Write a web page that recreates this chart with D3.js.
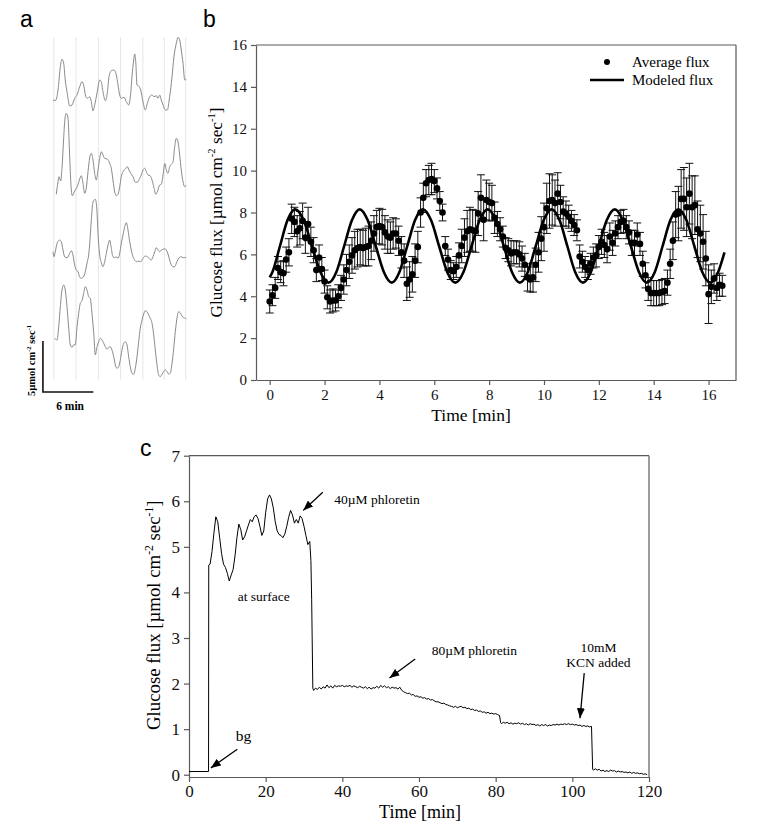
<!DOCTYPE html>
<html><head><meta charset="utf-8">
<script src="https://cdn.jsdelivr.net/npm/d3@7/dist/d3.min.js"></script>
<style>body{margin:0;background:#fff}svg{display:block}</style>
</head><body>
<svg id="fig" width="768" height="826"></svg>
<script>
// ---------- Panel a: individual flux traces ----------
const aTime1 = [0,0.27,0.6,0.87,1.07,1.27,1.46,1.7,1.99,2.26,2.58,2.89,3.18,3.45,3.69,3.85,4.08,4.37,4.56,4.76,4.96,5.27,5.56,5.75,5.95,6.23,6.46,6.67,6.94,7.26,7.54,7.74,7.94,8.13,8.45,8.73,9.01,9.25,9.4,9.61,9.73,9.85,10.0,10.2,10.44,10.71,10.99,11.23,11.51,11.79,12.02,12.3,12.5,12.7,12.89,13.1,13.37,13.61,13.89,14.17,14.4,14.68,14.88,15.08,15.27,15.48,15.68,15.87];
const aFlux1 = [1.63,1.56,2.61,4.89,5.62,5.23,3.59,2.28,1.04,1.14,1.79,2.19,2.93,3.42,2.93,2.12,1.79,1.95,1.46,0.55,1.14,2.44,3.59,3.42,2.44,1.56,2.28,3.91,4.5,4.57,4.08,3.1,2.12,1.79,1.89,1.46,1.14,2.28,3.91,5.55,6.14,5.38,3.1,3.0,2.61,1.46,0.65,1.3,1.95,2.12,1.95,2.05,1.79,2.12,1.63,1.14,0.65,0.65,1.95,3.91,5.87,7.19,7.77,7.51,6.53,5.23,3.59,3.66];
const aTime2 = [0.39,0.6,0.71,0.92,1.07,1.27,1.39,1.58,1.79,1.9,2.06,2.18,2.3,2.58,2.89,3.18,3.37,3.57,3.77,3.96,4.17,4.37,4.56,4.76,4.96,5.15,5.36,5.56,5.75,5.95,6.15,6.46,6.75,6.94,7.14,7.35,7.54,7.74,7.94,8.13,8.33,8.61,8.85,9.05,9.25,9.52,9.8,10.04,10.32,10.51,10.71,10.92,11.11,11.31,11.55,11.79,12.02,12.23,12.42,12.7,12.89,13.1,13.3,13.49,13.69,13.89,14.08,14.29,14.49,14.68,14.88,15.08,15.27,15.48,15.68,15.87];
const aFlux2 = [0.38,1.62,2.11,1.69,2.93,5.87,7.5,8.32,7.83,5.87,2.6,0.8,0.25,0.71,1.13,1.88,2.21,1.46,0.48,0.97,2.6,3.97,4.4,3.75,2.44,1.78,2.76,3.91,4.56,4.24,3.91,3.84,3.42,2.93,1.78,0.58,0.25,0.38,1.13,2.11,2.6,2.86,3.09,2.76,2.44,2.11,1.56,1.56,1.95,2.27,2.76,2.93,2.6,2.27,2.21,1.78,1.03,0.38,0.64,1.29,1.36,2.27,3.42,2.76,2.44,3.09,3.32,3.58,5.05,5.87,5.54,4.24,2.76,1.62,1.13,1.23];
const aTime3 = [0,0.12,0.27,0.51,0.8,0.99,1.19,1.39,1.7,1.99,2.18,2.38,2.58,2.77,2.98,3.18,3.37,3.69,3.89,4.08,4.25,4.4,4.56,4.73,4.88,5.04,5.2,5.36,5.56,5.75,5.95,6.15,6.35,6.55,6.75,6.94,7.14,7.35,7.54,7.74,7.94,8.13,8.33,8.54,8.73,8.93,9.13,9.32,9.52,9.73,9.92,10.12,10.44,10.71,10.99,11.23,11.43,11.7,11.9,12.11,12.3,12.5,12.7,12.89,13.1,13.3,13.49,13.69,13.89,14.08,14.29,14.49,14.68,14.88,15.08,15.27,15.48,15.68,15.87];
const aFlux3 = [2.75,2.26,2.75,3.64,3.9,3.74,2.92,2.26,2.17,2.6,2.85,2.43,1.45,0.96,0.79,0.25,0.15,0.37,0.96,1.77,2.43,3.9,5.86,7.5,7.82,7.89,7.17,4.56,2.43,1.68,1.28,1.77,2.6,3.41,3.9,3.09,2.26,2.17,2.26,2.11,2.6,3.58,4.39,5.21,5.6,4.88,3.74,2.92,2.26,1.94,1.77,1.84,1.77,2.11,2.33,2.26,2.11,1.94,2.26,2.75,3.15,2.92,2.75,2.92,2.99,3.05,2.92,2.53,1.94,1.45,1.28,1.28,1.62,2.01,2.21,2.26,2.17,2.17,2.21];
const aTime4 = [0.2,0.48,0.68,0.87,1.07,1.27,1.46,1.67,1.87,2.06,2.26,2.46,2.65,2.86,3.06,3.25,3.45,3.65,3.85,4.05,4.25,4.44,4.64,4.85,5.04,5.24,5.44,5.63,5.83,6.04,6.23,6.43,6.63,6.82,7.02,7.23,7.42,7.62,7.82,8.01,8.21,8.42,8.61,8.81,9.01,9.2,9.4,9.61,9.8,10.0,10.2,10.39,10.6,10.8,10.99,11.19,11.39,11.58,11.79,11.99,12.18,12.38,12.58,12.77,12.98,13.18,13.37,13.57,13.77,13.96,14.17,14.37,14.56,14.76,14.96,15.15,15.36,15.56,15.75,15.87];
const aFlux4 = [3.26,3.1,4.4,6.36,8.0,8.49,8.0,6.36,4.25,2.61,2.38,2.61,2.61,4.4,5.72,6.7,6.95,7.68,8.32,8.0,7.34,7.19,5.72,3.75,1.63,2.44,2.93,3.26,3.1,2.77,2.44,2.19,2.38,2.44,2.12,1.46,0.65,0.32,0.48,1.14,2.12,2.77,2.93,2.61,1.46,0.48,-0.17,-0.26,0.32,1.46,2.93,4.25,5.06,5.65,5.97,5.87,5.55,5.23,4.74,3.59,2.12,0.65,-0.33,-0.5,-0.26,0,0.16,0,-0.24,-0.17,0.81,2.28,3.91,5.23,5.87,5.77,5.45,5.28,5.23,5.16];
const aOffsets = [27, 19, 11, 2];
const aGridTimes = [0.1, 2.75, 5.4, 8.05, 10.7, 13.25, 15.8];
const aScaleBarMin = 6, aScaleBarFlux = 5;

// ---------- Panel b: average and modeled flux ----------
const avgTime = [0,0.1,0.2,0.3,0.4,0.5,0.6,0.7,0.8,0.9,1,1.1,1.2,1.3,1.4,1.5,1.6,1.7,1.8,1.9,2,2.1,2.2,2.3,2.4,2.5,2.6,2.7,2.8,2.9,3,3.1,3.2,3.3,3.4,3.5,3.6,3.7,3.8,3.9,4,4.1,4.2,4.3,4.4,4.5,4.6,4.7,4.8,4.9,5,5.1,5.2,5.3,5.4,5.5,5.6,5.7,5.8,5.9,6,6.1,6.2,6.3,6.4,6.5,6.6,6.7,6.8,6.9,7,7.1,7.2,7.3,7.4,7.5,7.6,7.7,7.8,7.9,8,8.1,8.2,8.3,8.4,8.5,8.6,8.7,8.8,8.9,9,9.1,9.2,9.3,9.4,9.5,9.6,9.7,9.8,9.9,10,10.1,10.2,10.3,10.4,10.5,10.6,10.7,10.8,10.9,11,11.1,11.2,11.3,11.4,11.5,11.6,11.7,11.8,11.9,12,12.1,12.2,12.3,12.4,12.5,12.6,12.7,12.8,12.9,13,13.1,13.2,13.3,13.4,13.5,13.6,13.7,13.8,13.9,14,14.1,14.2,14.3,14.4,14.5,14.6,14.7,14.8,14.9,15,15.1,15.2,15.3,15.4,15.5,15.6,15.7,15.8,15.9,16,16.1,16.2,16.3,16.4,16.5];
const avgFlux = [3.75,4.05,4.4,5.35,5.15,5.1,5.75,6.1,7.7,7.55,7.1,7.25,7.6,6.8,7.45,6.6,6.2,5.25,5.85,5.3,4.7,3.95,3.75,3.8,3.8,4.0,4.4,4.8,5.25,5.65,5.95,6.2,6.3,6.35,6.3,6.35,6.4,6.65,7.0,7.3,7.35,7.3,7.05,6.85,6.8,7.0,7.0,6.65,6.1,5.7,4.6,4.8,5.05,5.7,6.35,8.0,8.7,9.4,9.55,9.6,9.5,9.15,8.55,8.0,6.4,5.75,5.25,5.2,5.4,5.95,6.4,6.8,7.1,7.2,7.15,7.1,7.95,8.7,7.65,8.6,8.5,8.45,7.75,7.45,7.2,6.85,6.3,6.2,6.05,6.1,6.1,6.0,5.8,5.5,4.9,4.8,4.9,5.5,6.1,6.75,7.3,8.2,8.55,8.6,8.45,8.9,8.5,8.05,7.95,7.8,7.6,7.4,7.15,5.9,5.65,5.4,5.25,5.55,5.85,5.95,6.35,6.6,6.45,6.25,6.85,6.55,7.0,7.3,7.55,7.6,7.3,7.05,6.55,6.55,6.95,6.5,5.55,5.0,4.35,4.15,4.15,4.15,4.15,4.2,4.25,4.65,5.55,6.65,7.9,7.95,8.65,8.65,8.25,8.9,8.25,8.35,7.2,7.0,6.6,5.8,4.1,4.45,4.85,4.4,4.55,4.5];
const avgErr = [0.55,0.5,0.5,0.55,0.5, 0.6,0.6,0.65,0.7,0.7,0.75, 0.8,0.85,0.75,0.8,0.7, 0.6,0.55,0.6,0.55,0.55, 0.55,0.55,0.55,0.5,0.55, 0.6,0.7,0.75,0.8,0.85, 0.9,0.9,0.85,0.85,0.9, 0.95,0.9,0.85,0.8,0.85, 0.85,0.8,0.8,0.75,0.75, 0.7,0.7,0.75,0.8,0.8, 0.85,0.85,0.8,0.75,0.7, 0.7,0.65,0.7,0.75,0.55, 0.5,0.45,0.4,0.45,0.5, 0.45,0.4,0.5,0.6,0.8, 0.9,1.0,1.05,1.0,1.0, 1.05,1.1,1.0,0.95,0.9, 0.85,0.75,0.6,0.55,0.5, 0.5,0.55,0.6,0.55,0.55, 0.6,0.6,0.55,0.65,0.6, 0.7,0.8,0.95,1.05,1.15, 1.2,1.3,1.2,1.1,1.0, 0.8,0.7,0.6,0.55,0.5, 0.5,0.5,0.55,0.5,0.5, 0.45,0.5,0.5,0.55,0.55, 0.6,0.6,0.65,0.65,0.6, 0.6,0.55,0.55,0.55,0.55, 0.55,0.6,0.6,0.55,0.55, 0.6,0.6,0.55,0.6,0.6, 0.6,0.6,0.6,0.6,0.6, 0.7,0.9,1.1,1.3,1.4, 1.5,1.4,1.45,1.5,1.4, 1.35,1.35,1.3,1.3,1.4, 0.8,0.7,0.6,0.55,0.5];
const modelTime = [0,0.1,0.375,0.65,0.93,1.235,1.54,1.845,2.15,2.43,2.715,3.0,3.28,3.57,3.865,4.16,4.45,4.73,5.015,5.3,5.58,5.88,6.175,6.47,6.77,7.065,7.36,7.655,7.95,8.24,8.535,8.83,9.12,9.41,9.7,9.99,10.28,10.565,10.85,11.135,11.42,11.71,12.0,12.29,12.58,12.87,13.165,13.46,13.75,14.04,14.325,14.61,14.9,15.19,15.48,15.77,16.06,16.35,16.58];
const modelFlux = [4.9,5.16,6.4,7.64,8.15,7.64,6.4,5.16,4.65, 5.16,6.4,7.64,8.15,7.64,6.4,5.16,4.65, 5.16,6.4,7.64,8.15,7.64,6.4,5.16,4.65, 5.16,6.4,7.64,8.15,7.64,6.4,5.16,4.65, 5.16,6.4,7.64,8.15,7.64,6.4,5.16,4.65, 5.16,6.4,7.64,8.15,7.64,6.4,5.16,4.65, 5.16,6.4,7.64,8.15,7.64,6.4,5.16,4.65, 5.16,6.1];
const bTicksX = [0,2,4,6,8,10,12,14,16];
const bTicksY = [0,2,4,6,8,10,12,14,16];
const bLegend = ["Average flux", "Modeled flux"];

// ---------- Panel c: long recording ----------
const cTime = [0,5.1,5.15,5.5,6,6.5,7,7.5,8,8.5,9,9.5,10,10.5,11,11.5,12,12.5,13,13.5,14,14.5,15,15.5,16,16.5,17,17.5,18,18.5,19,19.5,20,20.5,21,21.5,22,22.5,23,23.5,24,24.5,25,25.5,26,26.5,27,27.5,28,28.5,29,29.5,30,30.5,31,31.5,31.8,32,32.3,
32.5,33,33.5,34,34.5,35,35.5,36,36.5,37,37.5,38,38.5,39,39.5,40,40.5,41,41.5,42,42.5,43,43.5,44,44.5,45,45.5,46,46.5,47,47.5,48,48.5,49,49.5,50,50.5,51,51.5,52,52.5,53,53.5,54,54.5,55,55.5,56,56.5,57,57.5,58,58.5,59,59.5,60,60.5,61,61.5,62,62.5,63,63.5,64,64.5,65,65.5,66,66.5,67,67.5,68,68.5,69,69.5,70,70.5,71,71.5,72,72.5,73,73.5,74,74.5,75,75.5,76,76.5,77,77.5,78,78.5,79,79.5,80,80.5,81,81.3,
81.5,82,82.5,83,83.5,84,84.5,85,85.5,86,86.5,87,87.5,88,88.5,89,89.5,90,90.5,91,91.5,92,92.5,93,93.5,94,94.5,95,95.5,96,96.5,97,97.5,98,98.5,99,99.5,100,100.5,101,101.5,102,102.5,103,103.5,104,104.5,105,105.3,
105.5,106,106.5,107,107.5,108,108.5,109,109.5,110,110.5,111,111.5,112,112.5,113,113.5,114,114.5,115,115.5,116,116.5,117,117.5,118,118.5,119,119.5];
const cFlux = [0.07,0.07,4.6,4.62,4.9,5.3,5.66,5.55,5.2,4.85,4.62,4.55,4.42,4.25,4.38,4.5,4.8,5.2,5.5,5.38,5.15,5.22,5.35,5.48,5.6,5.55,5.66,5.7,5.62,5.45,5.25,5.35,5.75,6.05,6.14,6.05,5.85,5.55,5.35,5.27,5.25,5.2,5.28,5.45,5.65,5.8,5.7,5.52,5.6,5.52,5.68,5.62,5.45,5.25,5.05,5.12,4.7,3.85,1.9,
1.85,1.9,1.87,1.92,1.88,1.93,1.9,1.97,1.91,1.95,1.9,1.96,1.93,1.95,1.94,1.96,1.93,1.95,1.94,1.96,1.92,1.95,1.93,1.91,1.94,1.92,1.9,1.93,1.89,1.92,1.88,1.91,1.9,1.94,1.9,1.96,1.92,1.95,1.91,1.93,1.89,1.92,1.9,1.91,1.88,1.92,1.85,1.82,1.8,1.78,1.79,1.75,1.76,1.72,1.73,1.7,1.71,1.68,1.69,1.66,1.67,1.64,1.65,1.62,1.6,1.6,1.58,1.56,1.57,1.54,1.53,1.51,1.5,1.48,1.5,1.47,1.49,1.5,1.47,1.48,1.45,1.46,1.43,1.44,1.41,1.42,1.39,1.4,1.37,1.38,1.35,1.37,1.34,1.35,1.33,1.34,1.32,1.3,1.14,
1.12,1.15,1.13,1.15,1.12,1.14,1.11,1.13,1.12,1.14,1.11,1.13,1.1,1.12,1.09,1.12,1.1,1.11,1.08,1.1,1.07,1.1,1.08,1.1,1.07,1.09,1.08,1.1,1.09,1.11,1.09,1.11,1.1,1.12,1.1,1.12,1.1,1.11,1.09,1.1,1.08,1.09,1.06,1.08,1.06,1.07,1.05,1.06,0.12,
0.1,0.13,0.1,0.12,0.08,0.1,0.07,0.09,0.07,0.1,0.08,0.09,0.06,0.08,0.06,0.07,0.05,0.06,0.04,0.06,0.03,0.05,0.03,0.04,0.02,0.03,0.01,0.02,0.0];
const cTicksX = [0,20,40,60,80,100,120];
const cTicksY = [0,1,2,3,4,5,6,7];
// annotation labels with their anchor points in data units (time, flux)
const cNotes = [
  {lines:["40\u00b5M phloretin"], at:[37.9,5.94], anchor:"start", size:13.5, arrow:[[34.9,6.2],[29.8,5.8]]},
  {lines:["at surface"], at:[12.7,3.82], anchor:"start", size:13.5, arrow:null},
  {lines:["80\u00b5M phloretin"], at:[63.3,2.63], anchor:"start", size:13.5, arrow:[[59.0,2.54],[52.3,2.12]]},
  {lines:["bg"], at:[12.2,0.73], anchor:"start", size:15.5, arrow:[[12.6,0.56],[5.7,0.15]]},
  {lines:["10mM","KCN added"], at:[106.8,2.7], anchor:"middle", size:13.5, arrow:[[103.1,2.23],[102.0,1.24]]}
];

// ---------- drawing ----------
const svg = d3.select('#fig');
const serif = '"Liberation Serif","Times New Roman",Times,serif';
const sans = '"Liberation Sans",Arial,Helvetica,sans-serif';
const axisColor = '#5a5a5a';

svg.append('defs').append('marker')
  .attr('id','arrowhead').attr('markerUnits','userSpaceOnUse')
  .attr('markerWidth',10).attr('markerHeight',8).attr('refX',10).attr('refY',4)
  .attr('orient','auto')
  .append('path').attr('d','M0,0 L10,4 L0,8 Z').attr('fill','#000');

function zip(t, v){ const n = Math.min(t.length, v.length); return d3.range(n).map(i => [t[i], v[i]]); }
function styleAxis(g, fs){
  g.select('.domain').attr('stroke', axisColor).attr('stroke-width',1.2);
  g.selectAll('.tick line').attr('stroke', axisColor).attr('stroke-width',1.2);
  g.selectAll('.tick text').attr('font-family', serif).attr('font-size', fs).attr('fill','#111');
}
function supLabel(g, parts, fs){
  parts.forEach(([s, sup], i) => {
    const ts = g.append('tspan').text(s);
    if (sup) ts.attr('font-size', fs*0.62).attr('dy', -fs*0.38);
    else if (i > 0 && parts[i-1][1]) ts.attr('dy', fs*0.38);
  });
}

// panel letters
svg.append('text').attr('x',20).attr('y',27).attr('font-family',sans).attr('font-size',23).text('a');
svg.append('text').attr('x',203).attr('y',27).attr('font-family',sans).attr('font-size',23).text('b');
svg.append('text').attr('x',140).attr('y',456).attr('font-family',sans).attr('font-size',23).text('c');

// ===== Panel a =====
const ax = d3.scaleLinear().domain([0,16]).range([53, 187.4]);
const ay = d3.scaleLinear().domain([0,35]).range([392, 35]);
const pa = svg.append('g');
pa.selectAll('line.grid').data(aGridTimes).join('line')
  .attr('x1', d => ax(d)).attr('x2', d => ax(d))
  .attr('y1', ay(34.8)).attr('y2', ay(1.2))
  .attr('stroke','#e6e6e6').attr('stroke-width',1);
const aLine = d3.line().x(d => ax(d[0])).curve(d3.curveMonotoneX);
const aTraces = [zip(aTime1,aFlux1), zip(aTime2,aFlux2), zip(aTime3,aFlux3), zip(aTime4,aFlux4)];
aTraces.forEach((tr, i) => {
  pa.append('path').datum(tr)
    .attr('d', aLine.y(d => ay(d[1] + aOffsets[i])))
    .attr('fill','none').attr('stroke','#8a8a8a').attr('stroke-width',1);
});
// scale bar
pa.append('path')
  .attr('d', `M${ax(-1.2)},${ay(aScaleBarFlux)} V${ay(0)} H${ax(-1.2 + aScaleBarMin)}`)
  .attr('fill','none').attr('stroke','#111').attr('stroke-width',1.6);
pa.append('text').attr('x', ax(-1.2 + aScaleBarMin/2) + 2).attr('y', 410)
  .attr('text-anchor','middle').attr('font-family',serif).attr('font-weight','bold').attr('font-size',11.5)
  .text(aScaleBarMin + ' min');
const aLab = pa.append('text').attr('transform', `translate(35,${ay(aScaleBarFlux/2)-6}) rotate(-90)`)
  .attr('text-anchor','middle').attr('font-family',serif).attr('font-weight','bold').attr('font-size',10.5);
supLabel(aLab, [[aScaleBarFlux + '\u00b5mol cm',false],['-2',true],[' sec',false],['-1',true]], 10.5);

// ===== Panel b =====
const bx = d3.scaleLinear().domain([-0.5,17]).range([256,736]);
const by = d3.scaleLinear().domain([0,16]).range([380,45]);
const pb = svg.append('g');
pb.append('line').attr('x1',bx(-0.5)).attr('x2',bx(17)).attr('y1',by(16)).attr('y2',by(16)).attr('stroke',axisColor).attr('stroke-width',1.2);
pb.append('line').attr('x1',bx(17)).attr('x2',bx(17)).attr('y1',by(16)).attr('y2',by(0)).attr('stroke',axisColor).attr('stroke-width',1.2);
const gbx = pb.append('g').attr('transform',`translate(0,${by(0)})`)
  .call(d3.axisBottom(bx).tickValues(bTicksX).tickFormat(d3.format('d')).tickSize(5).tickSizeOuter(0).tickPadding(4));
styleAxis(gbx, 15);
const gby = pb.append('g').attr('transform',`translate(${bx(-0.5)},0)`)
  .call(d3.axisLeft(by).tickValues(bTicksY).tickFormat(d3.format('d')).tickSize(5).tickSizeOuter(0).tickPadding(4));
styleAxis(gby, 15);

const avgData = d3.range(Math.min(avgTime.length, avgFlux.length, avgErr.length))
  .map(i => ({t: avgTime[i], v: avgFlux[i], e: avgErr[i]}));
const eb = pb.append('g').attr('stroke','#111').attr('stroke-width',1);
eb.selectAll('line.v').data(avgData).join('line')
  .attr('x1', d => bx(d.t)).attr('x2', d => bx(d.t))
  .attr('y1', d => by(d.v - d.e)).attr('y2', d => by(d.v + d.e));
eb.selectAll('line.top').data(avgData).join('line')
  .attr('x1', d => bx(d.t) - 4).attr('x2', d => bx(d.t) + 4)
  .attr('y1', d => by(d.v + d.e)).attr('y2', d => by(d.v + d.e));
eb.selectAll('line.bot').data(avgData).join('line')
  .attr('x1', d => bx(d.t) - 4).attr('x2', d => bx(d.t) + 4)
  .attr('y1', d => by(d.v - d.e)).attr('y2', d => by(d.v - d.e));
pb.append('path').datum(zip(modelTime, modelFlux))
  .attr('d', d3.line().x(d => bx(d[0])).y(d => by(d[1])).curve(d3.curveMonotoneX))
  .attr('fill','none').attr('stroke','#000').attr('stroke-width',2.6);
pb.append('g').selectAll('circle').data(avgData).join('circle')
  .attr('cx', d => bx(d.t)).attr('cy', d => by(d.v)).attr('r', 3.3).attr('fill','#000');

// legend
pb.append('circle').attr('cx',607).attr('cy',62).attr('r',3).attr('fill','#000');
pb.append('line').attr('x1',590).attr('x2',624).attr('y1',80).attr('y2',80).attr('stroke','#000').attr('stroke-width',2.4);
pb.append('text').attr('x',632).attr('y',67).attr('font-family',serif).attr('font-size',15).text(bLegend[0]);
pb.append('text').attr('x',632).attr('y',85).attr('font-family',serif).attr('font-size',15).text(bLegend[1]);
// axis titles
pb.append('text').attr('x',(bx(-0.5)+bx(17))/2 - 25).attr('y',421).attr('text-anchor','middle')
  .attr('font-family',serif).attr('font-size',17.5).text('Time [min]');
const bYLab = pb.append('text').attr('transform',`translate(222,${(by(0)+by(16))/2}) rotate(-90)`)
  .attr('text-anchor','middle').attr('font-family',serif).attr('font-size',17.2);
supLabel(bYLab, [['Glucose flux [\u00b5mol cm',false],['-2',true],[' sec',false],['-1',true],[']',false]], 17.2);

// ===== Panel c =====
const cx = d3.scaleLinear().domain([0,120]).range([189,649]);
const cy = d3.scaleLinear().domain([-0.05,7]).range([777,455.7]);
const pc = svg.append('g');
pc.append('line').attr('x1',cx(0)).attr('x2',cx(120)).attr('y1',cy(7)).attr('y2',cy(7)).attr('stroke',axisColor).attr('stroke-width',1.2);
pc.append('line').attr('x1',cx(120)).attr('x2',cx(120)).attr('y1',cy(7)).attr('y2',cy(-0.05)).attr('stroke',axisColor).attr('stroke-width',1.2);
const gcx = pc.append('g').attr('transform',`translate(0,${cy(-0.05)})`)
  .call(d3.axisBottom(cx).tickValues(cTicksX).tickFormat(d3.format('d')).tickSize(5).tickSizeOuter(0).tickPadding(3));
styleAxis(gcx, 17);
const gcy = pc.append('g').attr('transform',`translate(${cx(0)},0)`)
  .call(d3.axisLeft(cy).tickValues(cTicksY).tickFormat(d3.format('d')).tickSize(5).tickSizeOuter(0).tickPadding(4));
styleAxis(gcy, 17);
pc.append('path').datum(zip(cTime, cFlux))
  .attr('d', d3.line().x(d => cx(d[0])).y(d => cy(d[1])))
  .attr('fill','none').attr('stroke','#000').attr('stroke-width',1);
cNotes.forEach(n => {
  const t = pc.append('text').attr('x', cx(n.at[0])).attr('y', cy(n.at[1]))
    .attr('text-anchor', n.anchor).attr('font-family', serif).attr('font-size', n.size);
  n.lines.forEach((l, i) => t.append('tspan').attr('x', cx(n.at[0])).attr('dy', i ? n.size*1.1 : 0).text(l));
  if (n.arrow) {
    pc.append('line')
      .attr('x1', cx(n.arrow[0][0])).attr('y1', cy(n.arrow[0][1]))
      .attr('x2', cx(n.arrow[1][0])).attr('y2', cy(n.arrow[1][1]))
      .attr('stroke','#000').attr('stroke-width',1.3).attr('marker-end','url(#arrowhead)');
  }
});
pc.append('text').attr('x',420).attr('y',818).attr('text-anchor','middle')
  .attr('font-family',serif).attr('font-size',18).text('Time [min]');
const cYLab = pc.append('text').attr('transform',`translate(160,${(cy(0)+cy(7))/2}) rotate(-90)`)
  .attr('text-anchor','middle').attr('font-family',serif).attr('font-size',18.8);
supLabel(cYLab, [['Glucose flux [\u00b5mol cm',false],['-2',true],[' sec',false],['-1',true],[']',false]], 18.8);
</script>
</body></html>
